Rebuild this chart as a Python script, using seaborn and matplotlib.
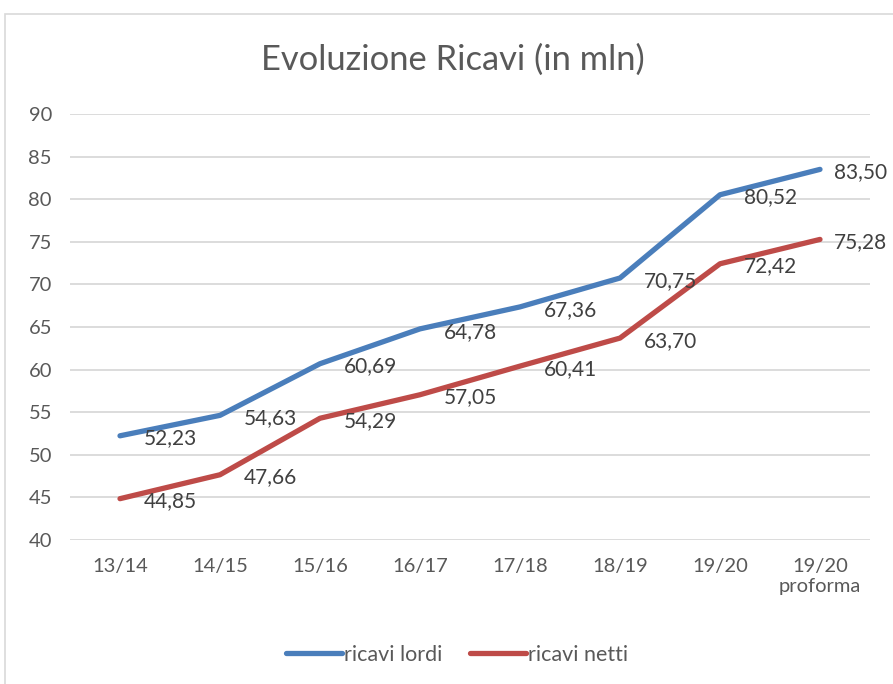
import pandas as pd
import matplotlib.pyplot as plt
import seaborn as sns
from matplotlib.patches import Rectangle

# data
categories = ['13/14', '14/15', '15/16', '16/17', '17/18', '18/19', '19/20', '19/20\nproforma']
ricavi_lordi = [52.23, 54.63, 60.69, 64.78, 67.36, 70.75, 80.52, 83.50]
ricavi_netti = [44.85, 47.66, 54.29, 57.05, 60.41, 63.70, 72.42, 75.28]
series_names = ['ricavi lordi', 'ricavi netti']
colors = ['#4A7EBB', '#BE4B48']

df = pd.DataFrame({
    'pos': list(range(len(categories))) * 2,
    'valore': ricavi_lordi + ricavi_netti,
    'serie': [series_names[0]] * len(categories) + [series_names[1]] * len(categories),
})

sns.set_style('white')
plt.rcParams['font.family'] = ['Lato', 'DejaVu Sans']
text_color = '#595959'

fig = plt.figure(figsize=(8.93, 6.84), dpi=100)
ax = fig.add_axes([70 / 893, 1 - 540 / 684, 800 / 893, 426 / 684])

sns.lineplot(data=df, x='pos', y='valore', hue='serie', palette=colors,
             linewidth=3.8, ax=ax, legend=True, solid_capstyle='round')

# data labels to the right of each point (last one pulled in to stay inside the frame)
for values in [ricavi_lordi, ricavi_netti]:
    for i, v in enumerate(values):
        dx = 10 if i == len(values) - 1 else 17
        ax.annotate(f'{v:.2f}'.replace('.', ','), (i, v), xytext=(dx, -2),
                    textcoords='offset points', ha='left', va='center',
                    fontsize=15, color='#404040')

ax.set_xlim(-0.5, len(categories) - 0.5)
ax.set_ylim(40, 90)
ax.set_yticks(range(40, 91, 5))
ax.set_xticks(range(len(categories)))
ax.set_xticklabels(categories, linespacing=1.2)
ax.tick_params(axis='both', length=0, labelsize=14.5, colors=text_color)
ax.tick_params(axis='y', pad=13)
ax.tick_params(axis='x', pad=13)
ax.yaxis.grid(True, color='#D9D9D9', linewidth=1.3)
ax.xaxis.grid(False)
ax.set_axisbelow(True)
for s in ax.spines.values():
    s.set_visible(False)
ax.set_xlabel('')
ax.set_ylabel('')

handles, labels = ax.get_legend_handles_labels()
ax.get_legend().remove()
fig.legend(handles, labels, loc='center', bbox_to_anchor=(457 / 893, 1 - 655 / 684),
           ncol=2, frameon=False, fontsize=15.5, handlelength=2.6, handletextpad=0.1,
           columnspacing=1.3, labelcolor=text_color)

fig.text(453 / 893, 1 - 60 / 684, 'Evoluzione Ricavi (in mln)', ha='center', va='center',
         fontsize=24.8, color=text_color)

# chart border like the spreadsheet frame
fig.patches.append(Rectangle((5 / 893, -0.1), 1.2, 1 - 14 / 684 + 0.1, transform=fig.transFigure,
                             fill=False, edgecolor='#D9D9D9', linewidth=1.2))

fig.savefig('out.png', dpi=100)
